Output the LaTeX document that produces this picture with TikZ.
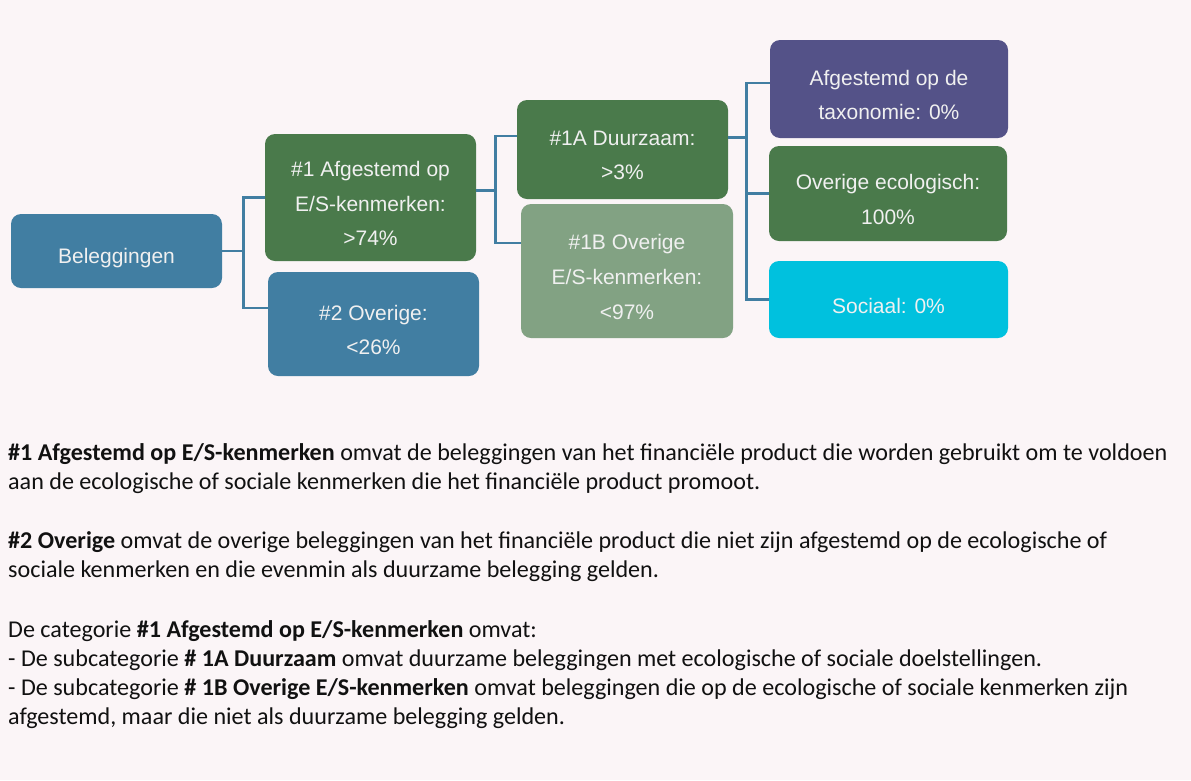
\documentclass[tikz,border=0pt]{standalone}
\usepackage{fontspec}
\setmainfont{Liberation Sans}
\newfontfamily\bodyfont{Carlito}
\usetikzlibrary{calc}
\definecolor{bgc}{HTML}{FBF5F7}
\definecolor{cblue}{HTML}{417EA2}
\definecolor{cgreen}{HTML}{4A7A4B}
\definecolor{clight}{HTML}{82A283}
\definecolor{cpurple}{HTML}{545288}
\definecolor{ccyan}{HTML}{00C1DE}
\definecolor{btext}{HTML}{111111}
\begin{document}
\begin{tikzpicture}[x=1pt,y=-1pt,
  box/.style={rounded corners=10pt, inner sep=0pt},
  txt/.style={inner sep=0pt, align=center, text=white!94!black,
    font=\fontsize{21}{34.7}\selectfont},
  conn/.style={draw=cblue, line width=2.6pt},
  body/.style={anchor=base west, inner sep=0pt, text=btext, font=\bodyfont\fontsize{24.1}{29}\selectfont}]
\fill[bgc] (0,0) rectangle (1191,780);
\useasboundingbox (0,0) rectangle (1191,780);

\node[box, fill=cblue, minimum width=211pt, minimum height=74pt] (bel) at (116.5,251) {};
\node[box, fill=cgreen, minimum width=211pt, minimum height=127pt] (n1) at (370.5,197.5) {};
\node[box, fill=cblue, minimum width=211pt, minimum height=104pt] (n2) at (373.5,324) {};
\node[box, fill=cgreen, minimum width=211pt, minimum height=99pt] (n1a) at (622.5,149.5) {};
\node[box, fill=clight, minimum width=212pt, minimum height=134pt] (n1b) at (627,271) {};
\node[box, fill=cpurple, minimum width=238pt, minimum height=98pt] (tax) at (889,89) {};
\node[box, fill=cgreen, minimum width=238pt, minimum height=95pt] (eco) at (888,193.5) {};
\node[box, fill=ccyan, minimum width=239pt, minimum height=77pt] (soc) at (888.5,299.5) {};

\node[txt] (belt) at ($(bel.center)+(0,7)$) {Beleggingen};
\node[txt] (n1t) at ($(n1.center)+(0,6)$) {\#1 Afgestemd op\\E/S-kenmerken:\\>74\%};
\node[txt] (n2t) at ($(n2.center)+(0,6)$) {\#2 Overige:\\<26\%};
\node[txt] (n1at) at ($(n1a.center)+(0,6)$) {\#1A Duurzaam:\\>3\%};
\node[txt] (n1bt) at ($(n1b.center)+(0,6)$) {\#1B Overige\\E/S-kenmerken:\\<97\%};
\node[txt] (taxt) at ($(tax.center)+(0,6)$) {Afgestemd op de\\taxonomie: 0\%};
\node[txt] (ecot) at ($(eco.center)+(0,6)$) {Overige ecologisch:\\100\%};
\node[txt] (soct) at ($(soc.center)+(0,6)$) {Sociaal: 0\%};

\draw[conn] (bel.east) -- ++(21,0) coordinate (f1);
\draw[conn] (n1.west) -| (f1) |- ($(n2.west)+(0,-16)$);

\draw[conn] ($(n1.east)+(0,-7)$) -- ++(19,0) coordinate (f2);
\draw[conn] ($(n1a.west)+(0,-13.5)$) -| (f2) |- ($(n1b.west)+(0,-28)$);

\draw[conn] ($(n1a.east)+(0,-12)$) -- ++(18,0) coordinate (f3);
\draw[conn] ($(tax.west)+(0,-6)$) -| (f3) |- (soc.west);
\draw[conn] (f3 |- eco.west) -- (eco.west);

\node[body] (t1) at (8,460) {\textbf{\#1 Afgestemd op E/S-kenmerken} omvat de beleggingen van het financiële product die worden gebruikt om te voldoen};
\node[body] (t2) at (8,489) {aan de ecologische of sociale kenmerken die het financiële product promoot.};
\node[body] (t3) at (8,548) {\textbf{\#2 Overige} omvat de overige beleggingen van het financiële product die niet zijn afgestemd op de ecologische of};
\node[body] (t4) at (8,577) {sociale kenmerken en die evenmin als duurzame belegging gelden.};
\node[body] (t5) at (8,637) {De categorie \textbf{\#1 Afgestemd op E/S-kenmerken} omvat:};
\node[body] (t6) at (8,666) {- De subcategorie \textbf{\# 1A Duurzaam} omvat duurzame beleggingen met ecologische of sociale doelstellingen.};
\node[body] (t7) at (8,695) {- De subcategorie \textbf{\# 1B Overige E/S-kenmerken} omvat beleggingen die op de ecologische of sociale kenmerken zijn};
\node[body] (t8) at (8,724) {afgestemd, maar die niet als duurzame belegging gelden.};
\end{tikzpicture}
\end{document}
